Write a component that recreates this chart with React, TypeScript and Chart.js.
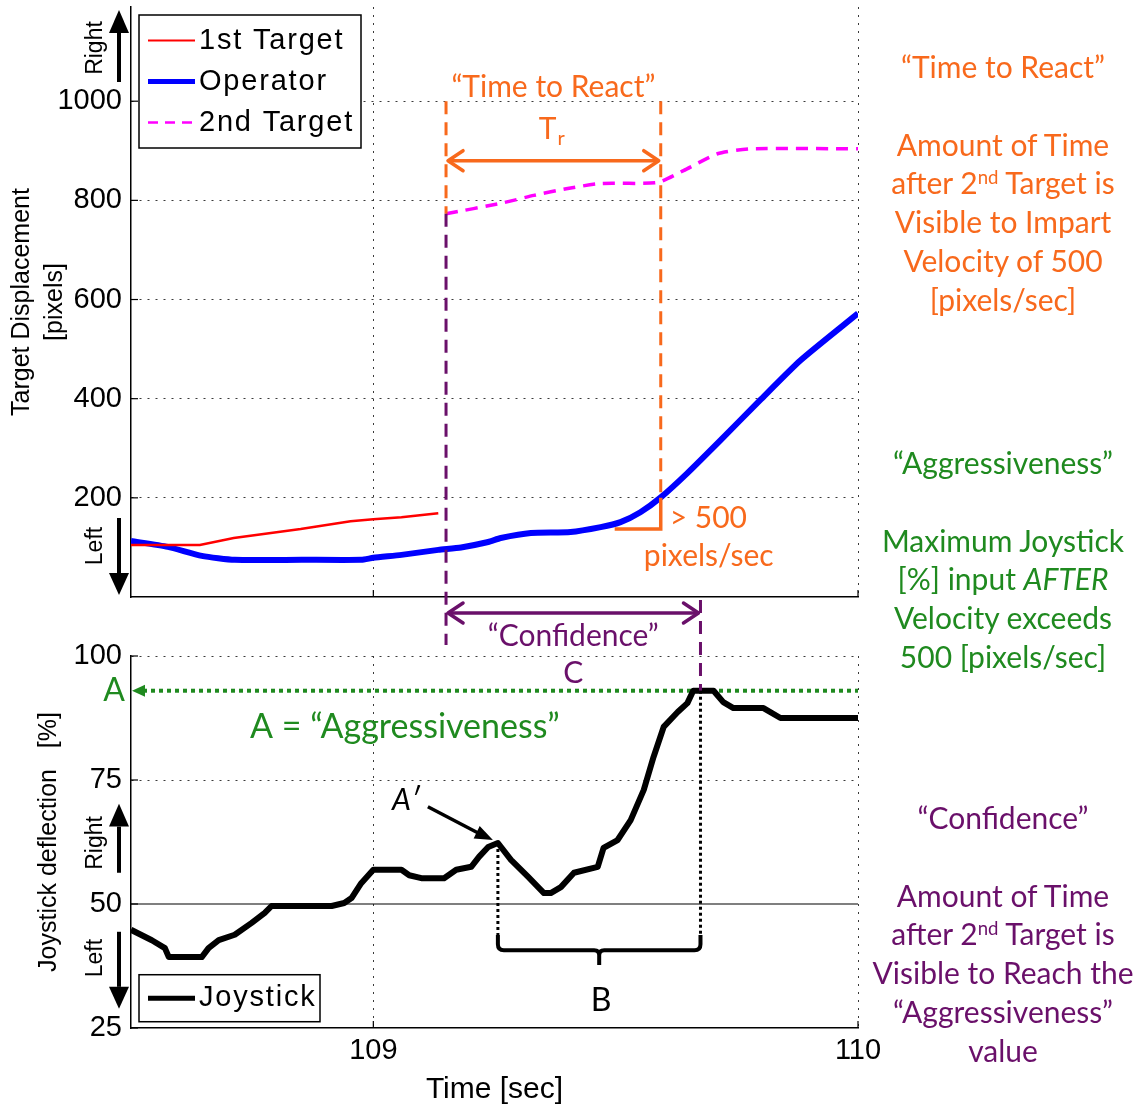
import React, { useEffect, useRef } from 'react';
import { Chart, registerables } from 'chart.js';

Chart.register(...registerables);

// ---------------- data ----------------
const timeTicks = [109, 110];
const displacementTicks = [200, 400, 600, 800, 1000];
const joystickTicks = [25, 50, 75, 100];

const firstTargetTime = [108.5, 108.642, 108.712, 108.85, 108.953, 109.0, 109.058, 109.134];
const firstTargetPx = [105, 105, 119, 137, 153, 157, 161, 169];

const operatorTime = [108.5, 108.576, 108.646, 108.714, 108.852, 108.975, 109.0, 109.058, 109.134, 109.181, 109.237, 109.263, 109.325, 109.407, 109.469, 109.51, 109.551, 109.593, 109.648, 109.716, 109.798, 109.881, 110.0];
const operatorPx = [113, 101, 83, 75, 75, 75, 79, 85, 95, 100, 111, 119, 129, 131, 141, 151, 171, 201, 250, 316, 397, 477, 572];

const secondTargetTime = [109.15, 109.263, 109.331, 109.401, 109.469, 109.586, 109.64, 109.71, 109.778, 110.0];
const secondTargetPx = [773, 794, 810, 824, 834, 836, 860, 894, 904, 904];

const joystickTime = [108.5, 108.543, 108.57, 108.578, 108.646, 108.66, 108.681, 108.714, 108.749, 108.776, 108.79, 108.914, 108.94, 108.955, 108.975, 109.0, 109.058, 109.074, 109.099, 109.146, 109.171, 109.202, 109.218, 109.237, 109.257, 109.284, 109.319, 109.352, 109.366, 109.387, 109.414, 109.463, 109.475, 109.504, 109.531, 109.558, 109.578, 109.599, 109.628, 109.648, 109.66, 109.702, 109.722, 109.743, 109.805, 109.84, 110.0];
const joystickPct = [44.8, 42.7, 41.1, 39.3, 39.3, 41.1, 42.7, 43.8, 46.2, 48.2, 49.6, 49.6, 50.2, 51.2, 54.2, 56.9, 56.9, 55.8, 55.2, 55.2, 56.9, 57.5, 59.5, 61.5, 62.3, 58.9, 55.5, 52.2, 52.2, 53.4, 56.3, 57.5, 61.3, 62.9, 66.9, 73.0, 79.6, 85.7, 88.7, 90.5, 93.0, 93.0, 90.7, 89.5, 89.5, 87.5, 87.5];

// key events
const T_VISIBLE = secondTargetTime[0];
const REACT_LEVEL = 200;
const T_REACT = 109.593;
const T_PEAK = 109.675;
const AGGRESSIVENESS = 93.0;
const APRIME_INDEX = 24;

// ---------------- style ----------------
const ORANGE = '#f8691c';
const GREEN = '#1f8a1f';
const PURPLE = '#6a106a';
const TICK_FONT = '"Liberation Sans", Arial, Helvetica, sans-serif';
const NOTE_FONT = 'Lato, "Open Sans", sans-serif';

const pts = (xs: number[], ys: number[]) => xs.map((x, i) => ({ x, y: ys[i] }));

function seg(ctx: any, x1: number, y1: number, x2: number, y2: number, color: string, width: number, dash: number[] = []) {
  ctx.save();
  ctx.strokeStyle = color;
  ctx.lineWidth = width;
  ctx.setLineDash(dash);
  ctx.beginPath();
  ctx.moveTo(x1, y1);
  ctx.lineTo(x2, y2);
  ctx.stroke();
  ctx.restore();
}

function chevron(ctx: any, x: number, y: number, dir: number, color: string) {
  ctx.save();
  ctx.strokeStyle = color;
  ctx.lineWidth = 3.5;
  ctx.lineCap = 'round';
  ctx.lineJoin = 'round';
  ctx.beginPath();
  ctx.moveTo(x - dir * 15, y - 10);
  ctx.lineTo(x, y);
  ctx.lineTo(x - dir * 15, y + 10);
  ctx.stroke();
  ctx.restore();
}

function doubleArrow(ctx: any, x1: number, x2: number, y: number, color: string) {
  seg(ctx, x1 + 2, y, x2 - 2, y, color, 3.5);
  chevron(ctx, x1 + 2, y, -1, color);
  chevron(ctx, x2 - 2, y, 1, color);
}

function label(ctx: any, s: string, x: number, y: number, font: string, color: string, align = 'center') {
  ctx.save();
  ctx.font = font;
  ctx.fillStyle = color;
  ctx.textAlign = align;
  ctx.textBaseline = 'middle';
  ctx.fillText(s, x, y);
  ctx.restore();
}

function vertLabel(ctx: any, s: string, x: number, y: number) {
  ctx.save();
  ctx.translate(x, y);
  ctx.rotate(-Math.PI / 2);
  ctx.font = `23px ${TICK_FONT}`;
  ctx.fillStyle = '#000';
  ctx.textAlign = 'center';
  ctx.textBaseline = 'middle';
  ctx.fillText(s, 0, 0);
  ctx.restore();
}

function bigArrow(ctx: any, x: number, yTail: number, yBase: number, yTip: number) {
  seg(ctx, x, yTail, x, yBase, '#000', 4);
  ctx.save();
  ctx.fillStyle = '#000';
  ctx.beginPath();
  ctx.moveTo(x - 10, yBase);
  ctx.lineTo(x + 10, yBase);
  ctx.lineTo(x, yTip);
  ctx.closePath();
  ctx.fill();
  ctx.restore();
}

function inwardTicks(chart: any, yVals: number[], xVals: number[]) {
  const { ctx, chartArea: ca } = chart;
  const xs = chart.scales.x;
  const ys = chart.scales.y;
  for (const v of yVals) {
    const y = ys.getPixelForValue(v);
    seg(ctx, ca.left, y, ca.left + 7, y, '#000', 1.2);
  }
  for (const v of xVals) {
    const x = xs.getPixelForValue(v);
    seg(ctx, x, ca.bottom, x, ca.bottom - 7, '#000', 1.2);
  }
}

function legendBox(ctx: any, x: number, y: number, w: number, rowH: number, entries: any[]) {
  const h = rowH * entries.length + 10;
  ctx.save();
  ctx.fillStyle = '#fff';
  ctx.fillRect(x, y, w, h);
  ctx.strokeStyle = '#000';
  ctx.lineWidth = 1.5;
  ctx.strokeRect(x, y, w, h);
  entries.forEach((e, i) => {
    const cy = y + 5 + rowH * (i + 0.5);
    seg(ctx, x + 9, cy, x + 56, cy, e.color, e.width, e.dash || []);
    ctx.font = `29px ${TICK_FONT}`;
    ctx.fillStyle = '#000';
    ctx.textAlign = 'left';
    ctx.textBaseline = 'middle';
    try { ctx.letterSpacing = '1.8px'; } catch (err) { /* ignore */ }
    ctx.fillText(e.label, x + 60, cy);
  });
  ctx.restore();
}

// ---------------- plugins ----------------
const topAnnotations = {
  id: 'topAnnotations',
  afterDatasetsDraw(chart: any) {
    const { ctx, chartArea: ca } = chart;
    const X = (v: number) => chart.scales.x.getPixelForValue(v);
    const Y = (v: number) => chart.scales.y.getPixelForValue(v);
    inwardTicks(chart, displacementTicks, timeTicks);

    const xv = X(T_VISIBLE);
    const xr = X(T_REACT);
    const xp = X(T_PEAK);
    const yStart = Y(secondTargetPx[0]);
    seg(ctx, xv, Y(1000), xv, yStart, ORANGE, 3, [13, 8]);
    seg(ctx, xv, yStart, xv, ca.bottom + 48, PURPLE, 3, [13, 8]);
    seg(ctx, xr, Y(1000), xr, Y(REACT_LEVEL), ORANGE, 3, [13, 8]);

    // time to react arrow
    doubleArrow(ctx, xv, xr, Y(880), ORANGE);
    const mid = (xv + xr) / 2;
    label(ctx, '“Time to React”', mid, Y(1027), `30px ${NOTE_FONT}`, ORANGE);
    label(ctx, 'T', mid + 3, Y(944), `30px ${NOTE_FONT}`, ORANGE, 'right');
    label(ctx, 'r', mid + 4, Y(925), `20px ${NOTE_FONT}`, ORANGE, 'left');

    // slope triangle
    ctx.save();
    ctx.strokeStyle = ORANGE;
    ctx.lineWidth = 3.5;
    ctx.beginPath();
    ctx.moveTo(xr, Y(REACT_LEVEL));
    ctx.lineTo(xr, Y(137));
    ctx.lineTo(X(109.498), Y(137));
    ctx.stroke();
    ctx.restore();
    label(ctx, '> 500', xr + 9, Y(159), `30px ${NOTE_FONT}`, ORANGE, 'left');
    label(ctx, 'pixels/sec', xr + 48, Y(83), `30px ${NOTE_FONT}`, ORANGE);

    // confidence arrow
    doubleArrow(ctx, xv, xp, ca.bottom + 16, PURPLE);
    label(ctx, '“Confidence”', (xv + xp) / 2, ca.bottom + 39, `30px ${NOTE_FONT}`, PURPLE);
  },
  afterDraw(chart: any) {
    const { ctx, chartArea: ca } = chart;
    legendBox(ctx, ca.left + 8, ca.top + 8, 222, 41, [
      { label: '1st Target', color: '#ff0000', width: 2 },
      { label: 'Operator', color: '#0000ff', width: 5 },
      { label: '2nd Target', color: '#ff00ff', width: 2.5, dash: [10, 7] },
    ]);
    const ax = ca.left - 12;
    bigArrow(ctx, ax, ca.top + 75, ca.top + 26, ca.top + 3);
    vertLabel(ctx, 'Right', ca.left - 35, ca.top + 41);
    bigArrow(ctx, ax, ca.bottom - 79, ca.bottom - 24, ca.bottom - 2);
    vertLabel(ctx, 'Left', ca.left - 35, ca.bottom - 51);
  },
};

const bottomAnnotations = {
  id: 'bottomAnnotations',
  beforeDatasetsDraw(chart: any) {
    const { ctx, chartArea: ca } = chart;
    const Y = (v: number) => chart.scales.y.getPixelForValue(v);
    seg(ctx, ca.left, Y(50), ca.right, Y(50), '#000', 1.2);
    // aggressiveness line
    const ya = Y(AGGRESSIVENESS);
    seg(ctx, ca.left + 12, ya, ca.right, ya, GREEN, 4, [4, 4]);
    ctx.save();
    ctx.fillStyle = GREEN;
    ctx.beginPath();
    ctx.moveTo(ca.left + 1, ya);
    ctx.lineTo(ca.left + 14, ya - 6);
    ctx.lineTo(ca.left + 14, ya + 6);
    ctx.closePath();
    ctx.fill();
    ctx.restore();
  },
  afterDatasetsDraw(chart: any) {
    const { ctx, chartArea: ca } = chart;
    const X = (v: number) => chart.scales.x.getPixelForValue(v);
    const Y = (v: number) => chart.scales.y.getPixelForValue(v);
    inwardTicks(chart, joystickTicks, timeTicks);
    const xv = X(T_VISIBLE);
    const xp = X(T_PEAK);
    const ya = Y(AGGRESSIVENESS);
    seg(ctx, xp, 0, xp, ya, PURPLE, 3, [13, 8]);
    label(ctx, 'C', (xv + xp) / 2, Y(96.6), `30px ${NOTE_FONT}`, PURPLE);
    label(ctx, 'A', ca.left - 17, ya, `32px ${NOTE_FONT}`, GREEN);
    label(ctx, 'A = “Aggressiveness”', X(109.065), Y(85.7), `34px ${NOTE_FONT}`, GREEN);

    // A' marker
    const ta = joystickTime[APRIME_INDEX];
    const va = joystickPct[APRIME_INDEX];
    const xa = X(ta);
    const yaP = Y(va);
    label(ctx, 'A′', xa - 92, Y(71), `italic 30px ${NOTE_FONT}`, '#000');
    seg(ctx, xa - 70, Y(69.6), xa - 14, yaP - 7, '#000', 3.5);
    ctx.save();
    ctx.fillStyle = '#000';
    const ang = Math.atan2(yaP - 5 - Y(69.6), xa - 5 - (xa - 70));
    ctx.translate(xa - 5, yaP - 3);
    ctx.rotate(ang);
    ctx.beginPath();
    ctx.moveTo(0, 0);
    ctx.lineTo(-18, -7);
    ctx.lineTo(-18, 7);
    ctx.closePath();
    ctx.fill();
    ctx.restore();

    // dotted drops and brace
    const yTop = Y(43.75);
    seg(ctx, xa, yaP, xa, yTop, '#000', 3, [3, 3]);
    seg(ctx, xp, ya, xp, yTop, '#000', 3, [3, 3]);
    const yBar = Y(40.7);
    const yBot = Y(37.7);
    const xm = (xa + xp) / 2;
    ctx.save();
    ctx.strokeStyle = '#000';
    ctx.lineWidth = 4;
    ctx.beginPath();
    ctx.moveTo(xa, yTop);
    ctx.lineTo(xa, yBar - 6);
    ctx.quadraticCurveTo(xa, yBar, xa + 6, yBar);
    ctx.lineTo(xm - 5, yBar);
    ctx.quadraticCurveTo(xm, yBar, xm, yBar + 5);
    ctx.lineTo(xm, yBot);
    ctx.moveTo(xm, yBar + 5);
    ctx.quadraticCurveTo(xm, yBar, xm + 5, yBar);
    ctx.lineTo(xp - 6, yBar);
    ctx.quadraticCurveTo(xp, yBar, xp, yBar - 6);
    ctx.lineTo(xp, yTop);
    ctx.stroke();
    ctx.restore();
    label(ctx, 'B', xm + 2, Y(30.6), `32px ${NOTE_FONT}`, '#000');
  },
  afterDraw(chart: any) {
    const { ctx, chartArea: ca } = chart;
    const Y = (v: number) => chart.scales.y.getPixelForValue(v);
    legendBox(ctx, ca.left + 8, Y(30.5) - 26, 181, 37, [{ label: 'Joystick', color: '#000', width: 5 }]);
    const ax = ca.left - 12;
    bigArrow(ctx, ax, Y(56.3), Y(65.6), Y(70.2));
    vertLabel(ctx, 'Right', ca.left - 35, Y(62.3));
    bigArrow(ctx, ax, Y(44.4), Y(33.3), Y(28.9));
    vertLabel(ctx, 'Left', ca.left - 35, Y(39.1));
  },
};

const gridColor = '#3a3a3a';
const plainTick = (v: any) => String(v);

function topConfig(): any {
  return {
    type: 'line',
    data: {
      datasets: [
        { label: '1st Target', data: pts(firstTargetTime, firstTargetPx), borderColor: '#ff0000', borderWidth: 2.5, pointRadius: 0, tension: 0 },
        { label: 'Operator', data: pts(operatorTime, operatorPx), borderColor: '#0000ff', borderWidth: 6, pointRadius: 0, tension: 0.2 },
        { label: '2nd Target', data: pts(secondTargetTime, secondTargetPx), borderColor: '#ff00ff', borderWidth: 3.5, borderDash: [12, 8], pointRadius: 0, tension: 0.2 },
      ],
    },
    options: {
      animation: false,
      responsive: false,
      devicePixelRatio: 1,
      layout: { padding: { left: 0, right: 288, top: 37, bottom: 63 } },
      plugins: { legend: { display: false }, tooltip: { enabled: false } },
      scales: {
        x: {
          type: 'linear',
          min: 108.5,
          max: 110,
          afterBuildTicks: (s: any) => { s.ticks = timeTicks.map((v) => ({ value: v })); },
          afterFit: (s: any) => { s.height = 0; },
          ticks: { display: false },
          grid: { color: gridColor, lineWidth: 1, drawTicks: false },
          border: { display: true, color: '#000', width: 1.5, dash: [2, 6] },
        },
        y: {
          type: 'linear',
          min: 0,
          max: 1190,
          afterBuildTicks: (s: any) => { s.ticks = displacementTicks.map((v) => ({ value: v })); },
          afterFit: (s: any) => { s.width = 131; },
          ticks: { color: '#000', font: { family: TICK_FONT, size: 29 }, padding: 9, callback: plainTick },
          grid: { color: gridColor, lineWidth: 1, drawTicks: false },
          border: { display: true, color: '#000', width: 1.5, dash: [2, 6] },
          title: {
            display: true,
            text: ['Target Displacement', '[pixels]'],
            color: '#000',
            font: { family: TICK_FONT, size: 25, lineHeight: 1.3 },
            padding: { top: 6, bottom: 0 },
          },
        },
      },
    },
    plugins: [topAnnotations],
  };
}

function bottomConfig(): any {
  return {
    type: 'line',
    data: {
      datasets: [
        { label: 'Joystick', data: pts(joystickTime, joystickPct), borderColor: '#000', borderWidth: 6, pointRadius: 0, tension: 0, borderJoinStyle: 'round' },
      ],
    },
    options: {
      animation: false,
      responsive: false,
      devicePixelRatio: 1,
      layout: { padding: { left: 0, right: 288, top: 56, bottom: 0 } },
      plugins: { legend: { display: false }, tooltip: { enabled: false } },
      scales: {
        x: {
          type: 'linear',
          min: 108.5,
          max: 110,
          afterBuildTicks: (s: any) => { s.ticks = timeTicks.map((v) => ({ value: v })); },
          afterFit: (s: any) => { s.height = 81; },
          ticks: { color: '#000', font: { family: TICK_FONT, size: 29 }, padding: 6, callback: plainTick },
          grid: { color: gridColor, lineWidth: 1, drawTicks: false },
          border: { display: true, color: '#000', width: 1.5, dash: [2, 6] },
          title: {
            display: true,
            text: 'Time [sec]',
            color: '#000',
            font: { family: TICK_FONT, size: 30 },
            padding: { top: 0, bottom: 1 },
          },
        },
        y: {
          type: 'linear',
          min: 25,
          max: 100,
          afterBuildTicks: (s: any) => { s.ticks = joystickTicks.map((v) => ({ value: v })); },
          afterFit: (s: any) => { s.width = 131; },
          ticks: { color: '#000', font: { family: TICK_FONT, size: 29 }, padding: 9, callback: plainTick },
          grid: {
            color: (c: any) => (c.tick && (c.tick.value === 50 || c.tick.value === 25) ? 'rgba(0,0,0,0)' : gridColor),
            lineWidth: 1,
            drawTicks: false,
          },
          border: { display: true, color: '#000', width: 1.5, dash: [2, 6] },
          title: {
            display: true,
            text: 'Joystick deflection   [%]',
            color: '#000',
            font: { family: TICK_FONT, size: 25 },
            padding: { top: 34, bottom: 0 },
          },
        },
      },
    },
    plugins: [bottomAnnotations],
  };
}

const sup = { fontSize: '0.62em', position: 'relative' as const, top: '-0.55em', lineHeight: 0 };

function SideNotes() {
  const base: any = {
    position: 'absolute',
    left: 860,
    width: 286,
    textAlign: 'center',
    fontFamily: NOTE_FONT,
    fontSize: 30,
    lineHeight: '38.8px',
    whiteSpace: 'nowrap',
  };
  const row: any = { height: 38.8, lineHeight: '38.8px' };
  return (
    <>
      <div style={{ ...base, top: 47, color: ORANGE }}>
        <div style={row}>“Time to React”</div>
        <div style={row}>&nbsp;</div>
        <div style={row}>Amount of Time</div>
        <div style={row}>after 2<span style={sup}>nd</span> Target is</div>
        <div style={row}>Visible to Impart</div>
        <div style={row}>Velocity of 500</div>
        <div style={row}>[pixels/sec]</div>
      </div>
      <div style={{ ...base, top: 443, color: GREEN }}>
        <div style={row}>“Aggressiveness”</div>
        <div style={row}>&nbsp;</div>
        <div style={row}>Maximum Joystick</div>
        <div style={row}>[%] input <i>AFTER</i></div>
        <div style={row}>Velocity exceeds</div>
        <div style={row}>500 [pixels/sec]</div>
      </div>
      <div style={{ ...base, top: 798, color: PURPLE }}>
        <div style={row}>“Confidence”</div>
        <div style={row}>&nbsp;</div>
        <div style={row}>Amount of Time</div>
        <div style={row}>after 2<span style={sup}>nd</span> Target is</div>
        <div style={row}>Visible to Reach the</div>
        <div style={row}>“Aggressiveness”</div>
        <div style={row}>value</div>
      </div>
    </>
  );
}

export default function App() {
  const topRef = useRef<HTMLCanvasElement>(null);
  const botRef = useRef<HTMLCanvasElement>(null);
  useEffect(() => {
    const c1 = new Chart(topRef.current as any, topConfig());
    const c2 = new Chart(botRef.current as any, bottomConfig());
    return () => {
      c1.destroy();
      c2.destroy();
    };
  }, []);
  return (
    <div style={{ position: 'absolute', left: 0, top: 0, width: 1146, height: 1109, overflow: 'hidden', background: '#fff' }}>
      <canvas ref={topRef} width={1146} height={690} style={{ position: 'absolute', left: 0, top: -30, width: 1146, height: 690 }} />
      <canvas ref={botRef} width={1146} height={509} style={{ position: 'absolute', left: 0, top: 600, width: 1146, height: 509 }} />
      <SideNotes />
    </div>
  );
}
